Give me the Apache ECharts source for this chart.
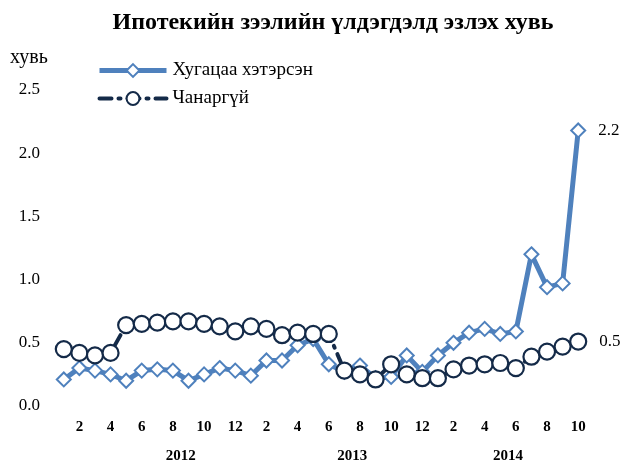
<!DOCTYPE html>
<html>
<head>
<meta charset="utf-8">
<script src="https://cdn.jsdelivr.net/npm/echarts@6/dist/echarts.min.js"></script>
<style>html,body{margin:0;padding:0;background:#fff}#c{width:623px;height:463px}</style>
</head>
<body>
<div id="c"></div>
<script>
const months = [1,2,3,4,5,6,7,8,9,10,11,12,1,2,3,4,5,6,7,8,9,10,11,12,1,2,3,4,5,6,7,8,9,10];
const overdue = [0.21,0.30,0.28,0.25,0.20,0.28,0.29,0.28,0.20,0.25,0.30,0.28,0.24,0.36,0.36,0.48,0.53,0.33,0.27,0.32,0.22,0.23,0.40,0.27,0.40,0.50,0.58,0.61,0.57,0.59,1.20,0.94,0.97,2.18];
const nonPerforming = [0.45,0.42,0.40,0.42,0.64,0.65,0.66,0.67,0.67,0.65,0.63,0.59,0.63,0.61,0.56,0.58,0.57,0.57,0.28,0.25,0.21,0.33,0.25,0.22,0.22,0.29,0.32,0.33,0.34,0.30,0.39,0.43,0.47,0.51];
const years = ['2012','2013','2014'];
const yearLabelAt = [7.5, 18.5, 28.5];
const yTicks = [0, 0.5, 1.0, 1.5, 2.0, 2.5];

const FONT = "'Liberation Serif','Times New Roman',serif";
const BLUE = '#4f81bd';
const NAVY = '#142a48';
const n = months.length;

const chart = echarts.init(document.getElementById('c'));
const lastLabel = (p) => p.dataIndex === n - 1 ? p.value.toFixed(1) : '';
chart.setOption({
  animation: false,
  title: {
    text: 'Ипотекийн зээлийн үлдэгдэлд эзлэх хувь',
    left: 328, top: 6, textAlign: 'center',
    textStyle: { fontFamily: FONT, fontSize: 24, fontWeight: 'bold', color: '#000' }
  },
  legend: {
    orient: 'vertical', left: 97, top: 61, padding: 0,
    itemWidth: 67, itemHeight: 16, itemGap: 9,
    textStyle: { fontFamily: FONT, fontSize: 19, color: '#000', padding: [0,0,0,1] },
    data: [
      { name: 'Хугацаа хэтэрсэн', lineStyle: { width: 5 } },
      { name: 'Чанаргүй', lineStyle: { width: 4 } }
    ]
  },
  grid: { left: 56, right: 37, top: 90, bottom: 57, outerBoundsMode: 'none' },
  xAxis: {
    type: 'category', data: months.map(String), boundaryGap: true,
    axisLine: { show: false }, axisTick: { show: false },
    axisLabel: {
      interval: (i) => i % 2 === 1, margin: 14,
      fontFamily: FONT, fontSize: 15, fontWeight: 'bold', color: '#000'
    }
  },
  yAxis: {
    type: 'value', min: 0, max: 2.5, interval: 0.5,
    axisLine: { show: false }, axisTick: { show: false }, splitLine: { show: false },
    axisLabel: {
      margin: 16, fontFamily: FONT, fontSize: 17, color: '#000',
      formatter: (v) => yTicks.includes(v) ? v.toFixed(1) : ''
    }
  },
  series: [{
    name: 'Хугацаа хэтэрсэн', type: 'line', data: overdue,
    symbol: 'diamond', symbolSize: 14, showAllSymbol: true,
    lineStyle: { color: BLUE, width: 5 },
    itemStyle: { color: '#fff', borderColor: BLUE, borderWidth: 2 },
    label: { show: true, position: 'right', distance: 12, formatter: lastLabel,
      fontFamily: FONT, fontSize: 17, color: '#000' },
    z: 2
  }, {
    name: 'Чанаргүй', type: 'line', data: nonPerforming,
    symbol: 'circle', symbolSize: 16, showAllSymbol: true,
    lineStyle: { color: NAVY, width: 4, type: [12, 7, 2, 7], cap: 'round' },
    itemStyle: { color: '#fff', borderColor: NAVY, borderWidth: 2.2 },
    label: { show: true, position: 'right', distance: 12, formatter: lastLabel,
      fontFamily: FONT, fontSize: 17, color: '#000' },
    z: 3
  }]
});

// Year labels and the unit label, placed through the axis scales
const px = (f) => {
  const a = chart.convertToPixel({ xAxisIndex: 0 }, Math.floor(f));
  const b = chart.convertToPixel({ xAxisIndex: 0 }, Math.ceil(f));
  return a + (b - a) * (f - Math.floor(f));
};
const yBase = chart.convertToPixel({ yAxisIndex: 0 }, 0);
const yTop = chart.convertToPixel({ yAxisIndex: 0 }, 2.5);
chart.setOption({
  graphic: years.map((y, i) => ({
    type: 'text', x: px(yearLabelAt[i]), y: yBase + 50,
    style: { text: y, fontFamily: FONT, fontSize: 15, fontWeight: 'bold', fill: '#000',
      textAlign: 'center', textVerticalAlign: 'middle' }
  })).concat([{
    type: 'text', x: 10, y: yTop - 32,
    style: { text: 'хувь', fontFamily: FONT, fontSize: 20, fill: '#000',
      textAlign: 'left', textVerticalAlign: 'middle' }
  }])
});
</script>
</body>
</html>
